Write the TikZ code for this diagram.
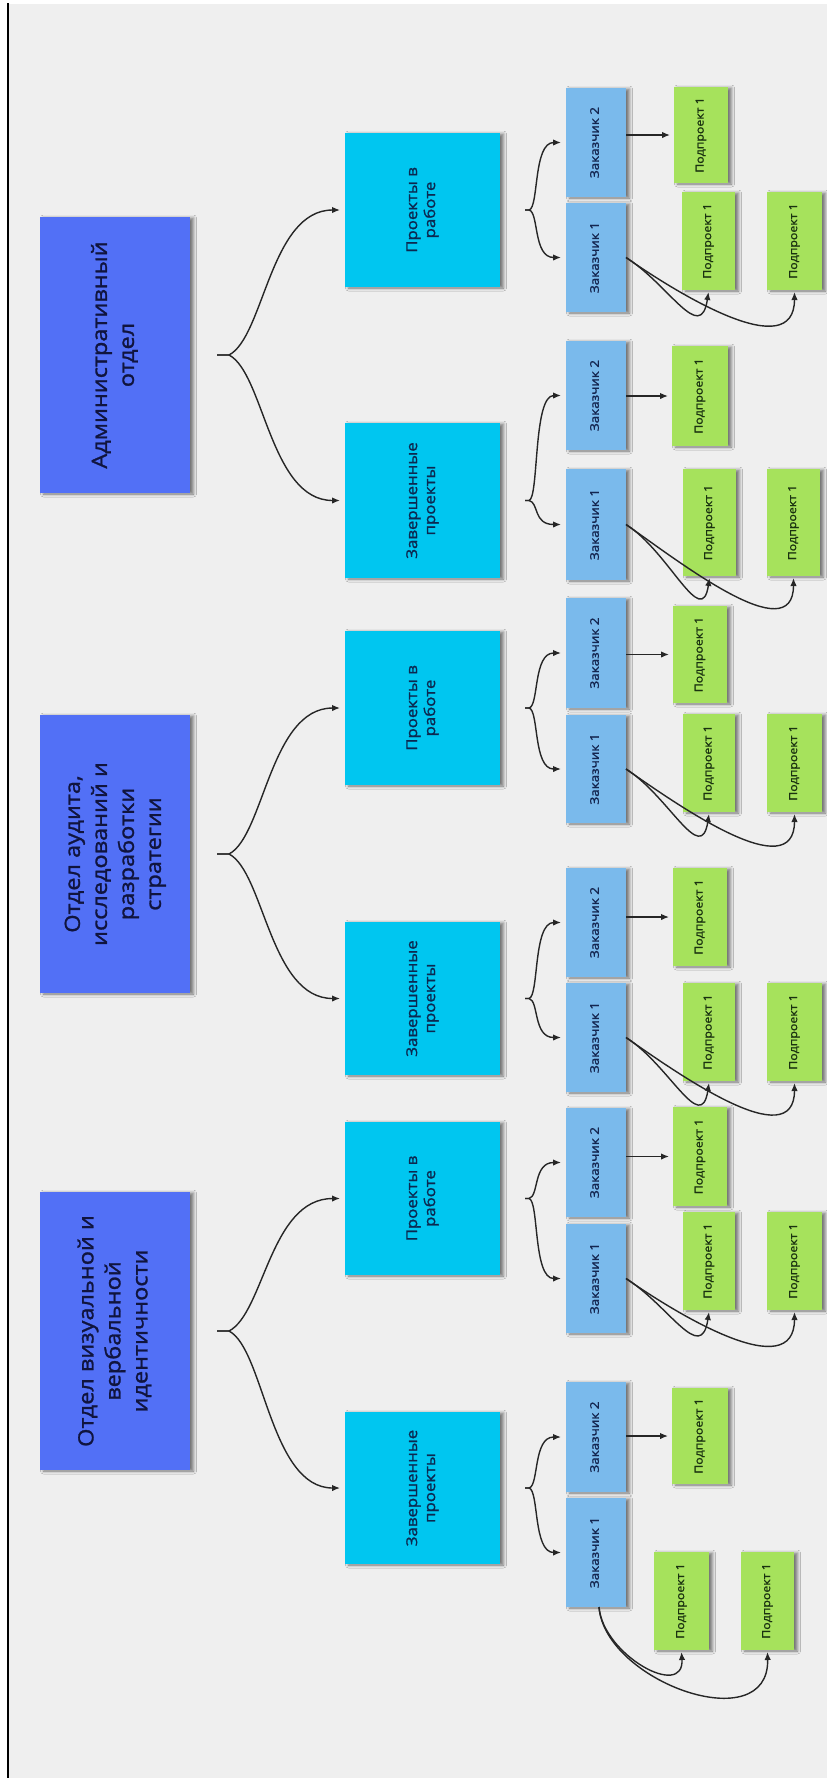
\documentclass[tikz,border=0pt]{standalone}
\usepackage{fontspec}
\setmainfont{Open Sans}[FakeStretch=1.12]
\newfontfamily\medf{Open Sans}[FakeStretch=1.12,FakeBold=1.3]
\usepackage{graphicx}
\usetikzlibrary{arrows.meta,shadows.blur}
\definecolor{bgc}{RGB}{239,239,239}
\definecolor{deptc}{RGB}{82,112,246}
\definecolor{projc}{RGB}{0,198,240}
\definecolor{clic}{RGB}{122,186,236}
\definecolor{subc}{RGB}{166,226,92}
\definecolor{depttx}{RGB}{16,20,62}
\definecolor{projtx}{RGB}{12,40,80}
\definecolor{clitx}{RGB}{20,38,80}
\definecolor{subtx}{RGB}{26,50,16}
\definecolor{linec}{RGB}{38,38,38}
\newcommand\rtx[1]{\rotatebox{90}{\begin{tabular}{@{}c@{}}#1\end{tabular}}}
\newcommand\bx[7]{\node[#1, minimum width={#5-#3}, minimum height={#6-#4}] (#2) at ({(#3+#5)/2},{(#4+#6)/2}) {\rtx{#7}};}
\newcommand\bigbr[3]{%
  \coordinate (#1t) at ([xshift=27pt]#1.east);
  \draw[conn] (#1t) -- ([xshift=12pt]#1t) .. controls ([xshift=47pt,yshift=18pt]#1t) and ([xshift=-75pt]#2.west) .. ([xshift=-5pt]#2.west);
  \draw[conn] (#1t) -- ([xshift=12pt]#1t) .. controls ([xshift=47pt,yshift=-18pt]#1t) and ([xshift=-75pt]#3.west) .. ([xshift=-5pt]#3.west);
}
\newcommand\smbr[3]{%
  \coordinate (#1t) at ([xshift=25pt]#1.east);
  \draw[conn] (#1t) -- ([xshift=4pt]#1t) .. controls ([xshift=14pt,yshift=2pt]#1t) and ([xshift=-33pt]#2.west) .. ([xshift=-5pt]#2.west);
  \draw[conn] (#1t) -- ([xshift=4pt]#1t) .. controls ([xshift=14pt,yshift=-2pt]#1t) and ([xshift=-33pt]#3.west) .. ([xshift=-5pt]#3.west);
}
\newcommand\onesub[2]{\draw[conn] (#1.east |- #2.west) -- ([xshift=-4pt]#2.west);}
\newcommand\twosub[3]{%
  \draw[conn] (#1.east) .. controls ([xshift=43pt,yshift=-27pt]#1.east) and ([xshift=-8pt,yshift=-55pt]#2.south) .. ([yshift=-2pt]#2.south);
  \draw[conn] (#1.east) .. controls ([xshift=53pt,yshift=-37pt]#1.east) and ([yshift=-75pt]#3.south) .. ([yshift=-2pt]#3.south);
}
\tikzset{
  notebox/.style={draw=none, inner sep=0pt, outer sep=0pt, align=center,
    blur shadow={shadow xshift=3.5pt, shadow yshift=-1pt, shadow blur radius=3pt, shadow opacity=50}},
  dept/.style={notebox, fill=deptc, text=depttx, font=\medf\fontsize{21}{27}\selectfont},
  proj/.style={notebox, fill=projc, text=projtx, font=\medf\fontsize{15}{18}\selectfont},
  cli/.style={notebox, fill=clic, text=clitx, font=\medf\fontsize{12}{14}\selectfont},
  subbox/.style={notebox, fill=subc, text=subtx, font=\medf\fontsize{11}{13}\selectfont},
  conn/.style={draw=linec, line width=1.4pt, -{Latex[length=8pt,width=6.5pt]}},
}
\begin{document}
\begin{tikzpicture}[x=1pt,y=-1pt]
\fill[white] (0,0) rectangle (827,1778);
\fill[bgc] (9,4) rectangle (827,1778);
\useasboundingbox (0,0) rectangle (827,1778);
\draw[black, line width=2.5pt] (8,3) -- (8,1778);

% departments
\bx{dept}{da}{40}{217}{190}{493}{Административный\\отдел}
\bx{dept}{db}{40}{715}{190}{993}{Отдел аудита,\\исследований и\\разработки\\стратегии}
\bx{dept}{dc}{40}{1192}{190}{1470}{Отдел визуальной и\\вербальной\\идентичности}

% projects
\bx{proj}{pa1}{345}{133}{500}{287}{Проекты в\\работе}
\bx{proj}{pa2}{345}{423}{500}{578}{Завершенные\\проекты}
\bx{proj}{pb1}{345}{631}{500}{785}{Проекты в\\работе}
\bx{proj}{pb2}{345}{922}{500}{1075}{Завершенные\\проекты}
\bx{proj}{pc1}{345}{1122}{500}{1275}{Проекты в\\работе}
\bx{proj}{pc2}{345}{1412}{500}{1564}{Завершенные\\проекты}

% clients
\bx{cli}{ca12}{566}{88}{626}{197}{Заказчик 2}
\bx{cli}{ca11}{566}{203}{626}{312}{Заказчик 1}
\bx{cli}{ca22}{566}{341}{626}{450}{Заказчик 2}
\bx{cli}{ca21}{566}{469}{626}{580}{Заказчик 1}
\bx{cli}{cb12}{566}{598}{626}{708}{Заказчик 2}
\bx{cli}{cb11}{566}{715}{626}{823}{Заказчик 1}
\bx{cli}{cb22}{566}{868}{626}{977}{Заказчик 2}
\bx{cli}{cb21}{566}{983}{626}{1092}{Заказчик 1}
\bx{cli}{cc12}{566}{1108}{626}{1217}{Заказчик 2}
\bx{cli}{cc11}{566}{1224}{626}{1333}{Заказчик 1}
\bx{cli}{cc22}{566}{1382}{626}{1492}{Заказчик 2}
\bx{cli}{cc21}{566}{1498}{626}{1607}{Заказчик 1}

% subprojects
\bx{subbox}{ga12}{674}{87}{728}{183}{Подпроект 1}
\bx{subbox}{ga11a}{682}{192}{735}{290}{Подпроект 1}
\bx{subbox}{ga11b}{767}{192}{822}{290}{Подпроект 1}
\bx{subbox}{ga22}{672}{346}{728}{446}{Подпроект 1}
\bx{subbox}{ga21a}{683}{469}{736}{576}{Подпроект 1}
\bx{subbox}{ga21b}{767}{469}{820}{576}{Подпроект 1}
\bx{subbox}{gb12}{673}{606}{727}{703}{Подпроект 1}
\bx{subbox}{gb11a}{683}{714}{735}{812}{Подпроект 1}
\bx{subbox}{gb11b}{767}{714}{822}{812}{Подпроект 1}
\bx{subbox}{gb22}{673}{868}{727}{966}{Подпроект 1}
\bx{subbox}{gb21a}{683}{983}{735}{1081}{Подпроект 1}
\bx{subbox}{gb21b}{767}{983}{822}{1081}{Подпроект 1}
\bx{subbox}{gc12}{673}{1107}{727}{1206}{Подпроект 1}
\bx{subbox}{gc11a}{683}{1212}{735}{1310}{Подпроект 1}
\bx{subbox}{gc11b}{767}{1212}{822}{1310}{Подпроект 1}
\bx{subbox}{gc22}{672}{1388}{728}{1484}{Подпроект 1}
\bx{subbox}{gc21a}{654}{1552}{709}{1650}{Подпроект 1}
\bx{subbox}{gc21b}{741}{1552}{794}{1650}{Подпроект 1}

% connectors
\bigbr{da}{pa1}{pa2}
\bigbr{db}{pb1}{pb2}
\bigbr{dc}{pc1}{pc2}

\smbr{pa1}{ca12}{ca11}
\smbr{pa2}{ca22}{ca21}
\smbr{pb1}{cb12}{cb11}
\smbr{pb2}{cb22}{cb21}
\smbr{pc1}{cc12}{cc11}
\smbr{pc2}{cc22}{cc21}

\onesub{ca12}{ga12}
\onesub{ca22}{ga22}
\onesub{cb12}{gb12}
\onesub{cb22}{gb22}
\onesub{cc12}{gc12}
\onesub{cc22}{gc22}

\twosub{ca11}{ga11a}{ga11b}
\twosub{ca21}{ga21a}{ga21b}
\twosub{cb11}{gb11a}{gb11b}
\twosub{cb21}{gb21a}{gb21b}
\twosub{cc11}{gc11a}{gc11b}

\draw[conn] ([xshift=3pt]cc21.south) .. controls ([xshift=7pt,yshift=-48pt]cc21.south) and ([xshift=3pt,yshift=-50pt]gc21a.south) .. ([yshift=-2pt]gc21a.south);
\draw[conn] ([xshift=3pt]cc21.south) .. controls ([xshift=9pt,yshift=-75pt]cc21.south) and ([xshift=2pt,yshift=-90pt]gc21b.south) .. ([yshift=-2pt]gc21b.south);
\end{tikzpicture}
\end{document}
